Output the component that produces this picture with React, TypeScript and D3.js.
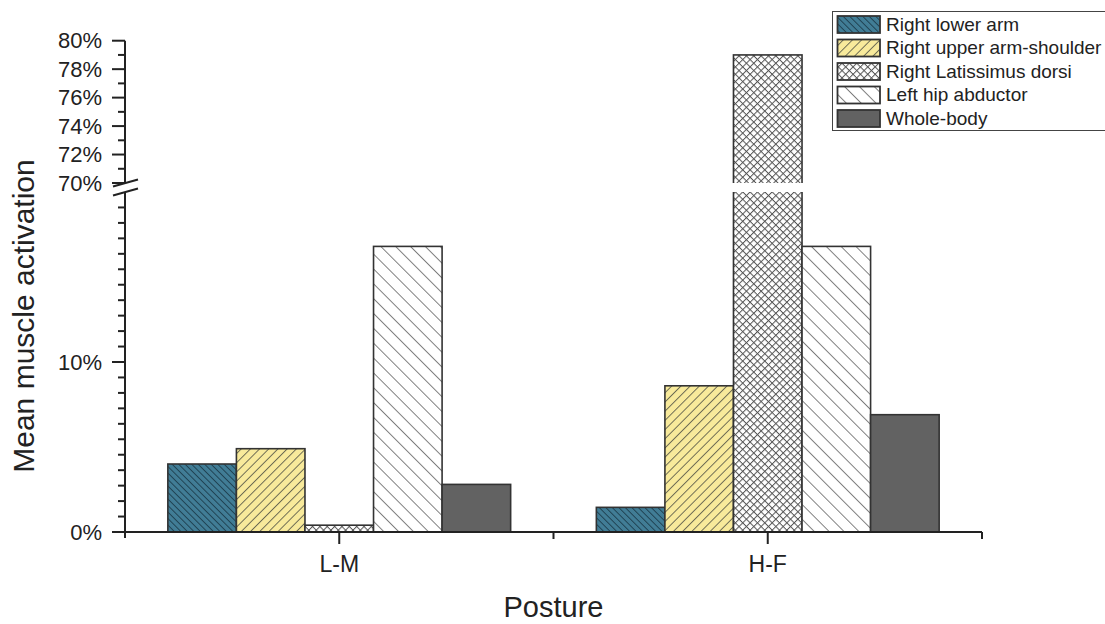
import React from "react";
import * as d3 from "d3";

const categories = ["L-M", "H-F"];
const seriesNames = [
  "Right lower arm",
  "Right upper arm-shoulder",
  "Right Latissimus dorsi",
  "Left hip abductor",
  "Whole-body",
];
const rightLowerArm = [4.0, 1.45];
const rightUpperArmShoulder = [4.9, 8.6];
const rightLatissimusDorsi = [0.4, 79.0];
const leftHipAbductor = [16.8, 16.8];
const wholeBody = [2.8, 6.9];
const seriesValues = [rightLowerArm, rightUpperArmShoulder, rightLatissimusDorsi, leftHipAbductor, wholeBody];

const lowerTickLabels = [0, 10];
const upperTickLabels = [70, 72, 74, 76, 78, 80];
const upperMinorTicks = [71, 73, 75, 77, 79];
const lowerMinorStep = 10 / 11;
const lowerMinorCount = 21;

const W = 1105;
const H = 624;
const axisX = 125;
const axisRight = 982;
const baseY = 532;

const x = d3.scaleLinear().domain([0.5, 2.5]).range([axisX, axisRight]);
const yLow = d3.scaleLinear().domain([0, 20]).range([baseY, 192]);
const yUp = d3.scaleLinear().domain([70, 80]).range([183, 40.7]);

const fills = [
  "url(#pLower)",
  "url(#pUpper)",
  "url(#pCross)",
  "url(#pHip)",
  "#626262",
];

const FONT = "'Liberation Sans', Arial, Helvetica, sans-serif";
const INK = "#222";

export default function App() {
  const barW = 0.8 / seriesNames.length;
  const lowerMinor = d3.range(0, lowerMinorCount + 1).map((i) => i * lowerMinorStep);

  const bars: JSX.Element[] = [];
  categories.forEach((cat, ci) => {
    seriesValues.forEach((vals, si) => {
      const v = vals[ci];
      const x0 = x(ci + 1 - 0.4 + si * barW);
      const x1 = x(ci + 1 - 0.4 + (si + 1) * barW);
      const top = v > 20 ? yUp(v) : yLow(v);
      bars.push(
        <rect
          key={`b-${ci}-${si}`}
          x={x0}
          y={top}
          width={x1 - x0}
          height={baseY - top}
          fill={fills[si]}
          stroke="#333"
          strokeWidth={1.6}
        />
      );
      if (v > 20) {
        bars.push(
          <rect
            key={`g-${ci}-${si}`}
            x={x0 - 2}
            y={yUp(70)}
            width={x1 - x0 + 4}
            height={yLow(20) - yUp(70)}
            fill="#fff"
          />
        );
      }
    });
  });

  const legendTop = 16;
  const legendStep = 23.5;

  return (
    <svg
      width={W}
      height={H}
      style={{ position: "absolute", left: 0, top: 0, background: "#fff" }}
      fontFamily={FONT}
    >
      <defs>
        <pattern id="pLower" patternUnits="userSpaceOnUse" width={4.6} height={10} patternTransform="rotate(-45)">
          <rect width={4.6} height={10} fill="#417d96" />
          <line x1={0.5} y1={0} x2={0.5} y2={10} stroke="#1b3a4a" strokeWidth={0.9} />
        </pattern>
        <pattern id="pUpper" patternUnits="userSpaceOnUse" width={6.5} height={10} patternTransform="rotate(45)">
          <rect width={6.5} height={10} fill="#f8ea9b" />
          <line x1={0.5} y1={0} x2={0.5} y2={10} stroke="#5a5a4a" strokeWidth={0.9} />
        </pattern>
        <pattern id="pCross" patternUnits="userSpaceOnUse" width={5.2} height={5.2} patternTransform="rotate(45)">
          <rect width={5.2} height={5.2} fill="#fff" />
          <line x1={0.5} y1={0} x2={0.5} y2={5.2} stroke="#555" strokeWidth={1} />
          <line x1={0} y1={0.5} x2={5.2} y2={0.5} stroke="#555" strokeWidth={1} />
        </pattern>
        <pattern id="pHip" patternUnits="userSpaceOnUse" width={10.5} height={10} patternTransform="rotate(-45)">
          <rect width={10.5} height={10} fill="#fff" />
          <line x1={0.5} y1={0} x2={0.5} y2={10} stroke="#6e6e6e" strokeWidth={0.9} />
        </pattern>
      </defs>

      {bars}

      {/* X axis */}
      <line x1={axisX} x2={axisRight} y1={baseY} y2={baseY} stroke={INK} strokeWidth={2} />
      {categories.map((c, i) => (
        <g key={c}>
          <line x1={x(i + 1)} x2={x(i + 1)} y1={baseY} y2={baseY + 12} stroke={INK} strokeWidth={2} />
          <text x={x(i + 1)} y={572} textAnchor="middle" fontSize={23} fill={INK}>
            {c}
          </text>
        </g>
      ))}
      {[1.5, 2.5].map((t) => (
        <line key={t} x1={x(t)} x2={x(t)} y1={baseY} y2={baseY + 7} stroke={INK} strokeWidth={2} />
      ))}
      <text x={(axisX + axisRight) / 2} y={617} textAnchor="middle" fontSize={29} fill={INK}>
        Posture
      </text>

      {/* Y axis lower segment */}
      <line x1={axisX} x2={axisX} y1={baseY + 6} y2={yLow(20)} stroke={INK} strokeWidth={2} />
      {lowerMinor.map((t, i) => (
        <line key={`lm${i}`} x1={axisX - 7} x2={axisX} y1={yLow(t)} y2={yLow(t)} stroke={INK} strokeWidth={2} />
      ))}
      {lowerTickLabels.map((t) => (
        <g key={`lt${t}`}>
          <line x1={axisX - 13} x2={axisX} y1={yLow(t)} y2={yLow(t)} stroke={INK} strokeWidth={2} />
          <text x={102} y={yLow(t)} dy="0.35em" textAnchor="end" fontSize={22} fill={INK}>
            {t}%
          </text>
        </g>
      ))}

      {/* Y axis upper segment */}
      <line x1={axisX} x2={axisX} y1={yUp(70)} y2={yUp(80)} stroke={INK} strokeWidth={2} />
      {upperMinorTicks.map((t) => (
        <line key={`um${t}`} x1={axisX - 7} x2={axisX} y1={yUp(t)} y2={yUp(t)} stroke={INK} strokeWidth={2} />
      ))}
      {upperTickLabels.map((t) => (
        <g key={`ut${t}`}>
          <line x1={axisX - 13} x2={axisX} y1={yUp(t)} y2={yUp(t)} stroke={INK} strokeWidth={2} />
          <text x={102} y={yUp(t)} dy="0.35em" textAnchor="end" fontSize={22} fill={INK}>
            {t}%
          </text>
        </g>
      ))}

      {/* Break marks */}
      {[yUp(70), yLow(20)].map((yb, i) => (
        <line
          key={`br${i}`}
          x1={axisX - 12}
          y1={yb + 3.5}
          x2={axisX + 13}
          y2={yb - 3.5}
          stroke={INK}
          strokeWidth={2}
        />
      ))}

      <text
        transform={`translate(34, 316) rotate(-90)`}
        textAnchor="middle"
        fontSize={30}
        fill={INK}
      >
        Mean muscle activation
      </text>

      {/* Legend */}
      <rect x={832.5} y={11.5} width={290} height={119} fill="#fff" stroke="#444" strokeWidth={1} />
      {seriesNames.map((name, i) => {
        const ty = legendTop + i * legendStep;
        return (
          <g key={name}>
            <rect x={837.5} y={ty} width={42.5} height={17} fill={fills[i]} stroke="#333" strokeWidth={1.8} />
            <text x={886} y={ty + 14.5} fontSize={19} fill={INK}>
              {name}
            </text>
          </g>
        );
      })}
    </svg>
  );
}
